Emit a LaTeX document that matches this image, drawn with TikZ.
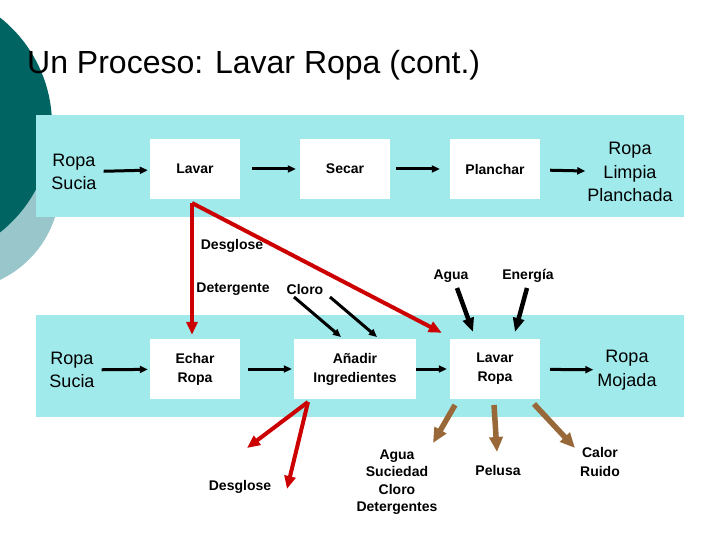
\documentclass[tikz,border=0pt]{standalone}
\usepackage{fontspec}
\setmainfont{Liberation Sans}
\usetikzlibrary{positioning,calc,arrows.meta}

\definecolor{bandCyan}{RGB}{160,234,236}
\definecolor{tealDark}{RGB}{0,100,98}
\definecolor{tealLight}{RGB}{152,198,202}
\definecolor{dsgRed}{RGB}{204,0,0}
\definecolor{outBrown}{RGB}{153,104,56}

\begin{document}
\begin{tikzpicture}[x = 1pt, y = -1pt,
        procBox/.style = {fill = white, minimum width = 90pt, minimum height = 60pt, inner sep = 0pt, align = center, font = \fontsize{14}{19}\selectfont\bfseries},
        bigText/.style = {align = center, inner sep = 2pt, font = \fontsize{18}{23.5}\selectfont},
        smallText/.style = {align = center, inner sep = 1pt, font = \fontsize{14}{17.5}\selectfont\bfseries},
        flowArrow/.style = {line width = 3pt, -{Triangle[length = 8pt, width = 7pt]}},
        inArrow/.style = {line width = 4.5pt, -{Triangle[length = 14pt, width = 11pt]}},
        dsgArrow/.style = {line width = 4pt, dsgRed, -{Triangle[length = 13pt, width = 11pt]}},
        outArrow/.style = {line width = 5.5pt, outBrown, -{Triangle[length = 15pt, width = 13pt]}}]

        \useasboundingbox (0, 0) rectangle (720, 540);

        % background circles
        \begin{scope}
            \clip (0, 0) rectangle (720, 540);
            \fill[tealLight] (-45, 185) circle (105);
            \fill[tealDark] (-85, 125) circle (137);
        \end{scope}

        \node[anchor = base west, inner sep = 0pt, font = \fontsize{32}{36}\selectfont] (title) at (27, 74) {Un Proceso: Lavar Ropa (cont.)};

        % process bands
        \fill[bandCyan] (36, 115) rectangle (684, 217);
        \fill[bandCyan] (36, 315) rectangle (684, 417);

        % top band
        \node[bigText] (ropaA) at (74, 172) {Ropa\\Sucia};
        \node[procBox] (lavar) at (195, 169) {Lavar};
        \node[procBox] (secar) at (345, 169) {Secar};
        \node[procBox] (planchar) at (495, 169) {Planchar};
        \node[bigText] (limpia) at (630, 172) {Ropa\\Limpia\\Planchada};

        \draw[flowArrow, shorten <= 5pt, shorten >= 2pt] (ropaA) -- (lavar);
        \draw[flowArrow, shorten <= 12pt, shorten >= 4pt] (lavar) -- (secar);
        \draw[flowArrow, shorten <= 6pt, shorten >= 10pt] (secar) -- (planchar);
        \draw[flowArrow, shorten <= 10pt, shorten >= 0pt] (planchar) -- (limpia);

        % bottom band
        \node[bigText] (ropaB) at (72, 370) {Ropa\\Sucia};
        \node[procBox] (echar) at (195, 369) {Echar\\Ropa};
        \node[procBox, minimum width = 122pt] (anadir) at (355, 369) {Añadir\\Ingredientes};
        \node[procBox] (lavarRopa) at (495, 369) {Lavar\\Ropa};
        \node[bigText] (mojada) at (627, 370) {Ropa\\Mojada};

        \draw[flowArrow, shorten <= 5pt, shorten >= 2pt] (ropaB) -- (echar);
        \draw[flowArrow, shorten <= 8pt, shorten >= 2pt] (echar) -- (anadir);
        \draw[flowArrow, shorten <= 0pt, shorten >= 3pt] (anadir) -- (lavarRopa);
        \draw[flowArrow, shorten <= 10pt, shorten >= 2pt] (lavarRopa) -- (mojada);

        % inputs
        \node[smallText] (desgloseA) at (232, 246) {Desglose};
        \node[smallText] (detergente) at (233, 289) {Detergente};
        \node[smallText] (cloro) at (305, 289) {Cloro};
        \node[smallText] (agua) at (451, 276) {Agua};
        \node[smallText] (energia) at (528, 276) {Energía};

        \coordinate (dsgTop) at (192, 203);
        \draw[dsgArrow] (dsgTop) to ($(echar.north) + (-3, -4)$);
        \draw[dsgArrow] (dsgTop) to ($(lavarRopa.north west) + (-8, -6)$);

        \coordinate (cloroA) at (294, 297);
        \coordinate (cloroB) at (330, 297);
        \draw[flowArrow] (cloroA) to (341, 337);
        \draw[flowArrow] (cloroB) to (377, 337);

        \coordinate (aguaIn) at (457, 288);
        \coordinate (energiaIn) at (527, 288);
        \draw[inArrow] (aguaIn) to (473, 332);
        \draw[inArrow] (energiaIn) to (515, 332);

        % outputs
        \node[smallText] (desgloseB) at (240, 487) {Desglose};
        \node[smallText] (residuos) at (397, 482) {Agua\\Suciedad\\Cloro\\Detergentes};
        \node[smallText] (pelusa) at (498, 470) {Pelusa};
        \node[smallText, font = \fontsize{14}{19}\selectfont\bfseries] (calor) at (600, 462) {Calor\\Ruido};

        \coordinate (dsgBot) at (308, 402);
        \draw[dsgArrow] (dsgBot) to (247, 448);
        \draw[dsgArrow] (dsgBot) to (287, 489);

        \draw[outArrow] (455, 405) to (433, 443);
        \draw[outArrow] (494, 405) to (497, 452);
        \draw[outArrow] (534, 404) to (575, 448);

\end{tikzpicture}
\end{document}
